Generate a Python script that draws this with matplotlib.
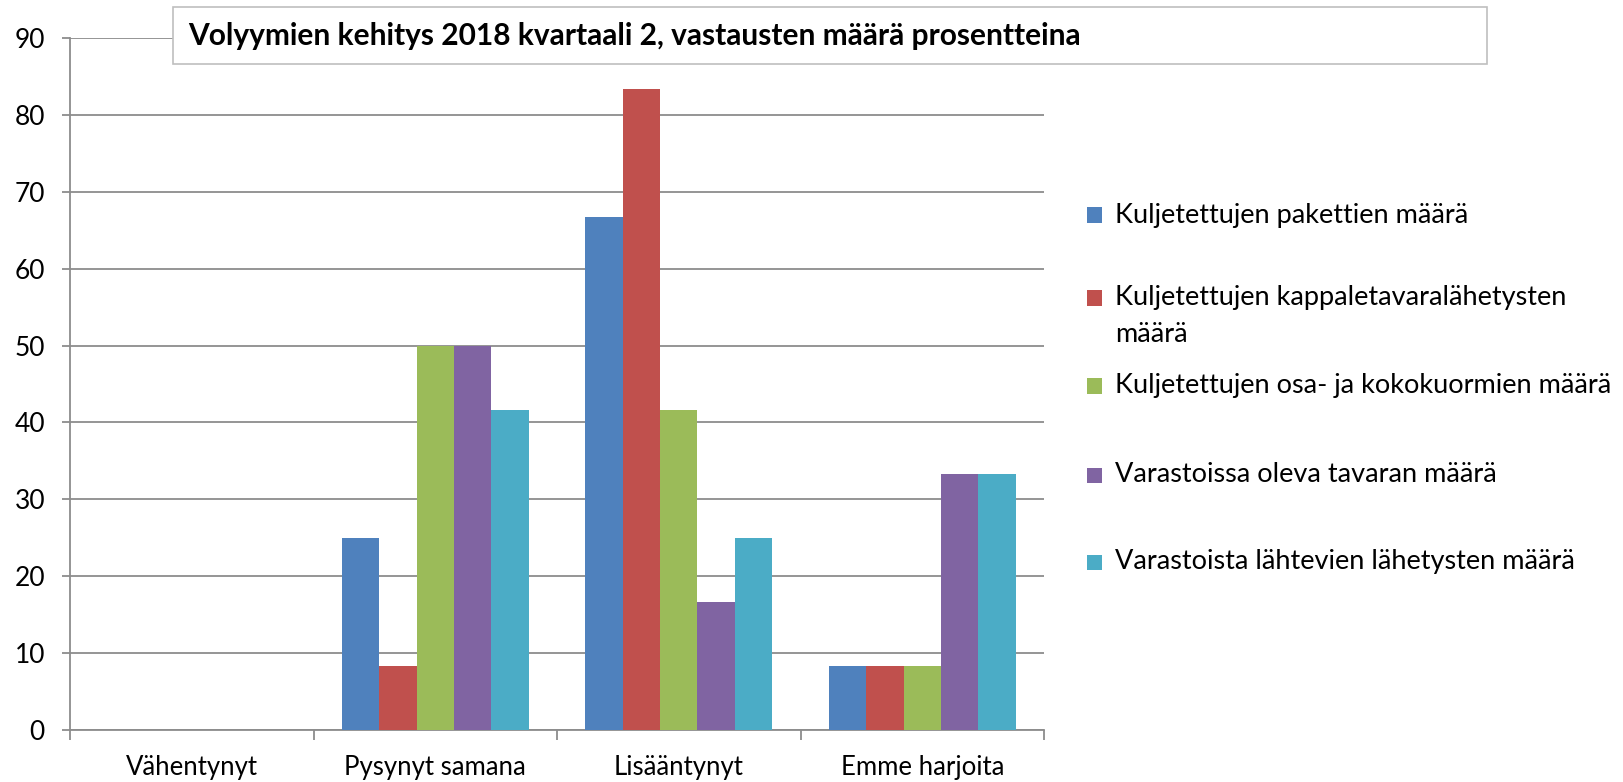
import matplotlib
matplotlib.use("Agg")
import matplotlib.pyplot as plt
import numpy as np
from matplotlib.patches import Rectangle

categories = ["Vähentynyt", "Pysynyt samana", "Lisääntynyt", "Emme harjoita"]
series_names = [
    "Kuljetettujen pakettien määrä",
    "Kuljetettujen kappaletavaralähetysten\nmäärä",
    "Kuljetettujen osa- ja kokokuormien määrä",
    "Varastoissa oleva tavaran määrä",
    "Varastoista lähtevien lähetysten määrä",
]
pakettien = [0, 25.0, 66.67, 8.33]
kappaletavara = [0, 8.33, 83.33, 8.33]
kokokuormat = [0, 50.0, 41.67, 8.33]
varastoissa = [0, 50.0, 16.67, 33.33]
varastoista = [0, 41.67, 25.0, 33.33]
series_values = [pakettien, kappaletavara, kokokuormat, varastoissa, varastoista]
colors = ["#4F81BD", "#C0504D", "#9BBB59", "#8064A2", "#4BACC6"]
title = "Volyymien kehitys 2018 kvartaali 2, vastausten määrä prosentteina"

plt.rcParams['font.family'] = ['Lato', 'DejaVu Sans']

W, H = 1623, 782
fig = plt.figure(figsize=(W/100, H/100), dpi=100)
ax_l, ax_r, ax_b, ax_t = 70, 1044, 730, 38
ax = fig.add_axes([ax_l/W, 1-ax_b/H, (ax_r-ax_l)/W, (ax_b-ax_t)/H])

n = len(series_values)
group = 5/6.5
bw = group/n
x = np.arange(len(categories))
for i, (vals, c) in enumerate(zip(series_values, colors)):
    ax.bar(x - group/2 + bw*(i+0.5), vals, width=bw, color=c, zorder=3,
           edgecolor='none')

ax.set_xlim(-0.5, len(categories)-0.5)
ax.set_ylim(0, 90)
ax.set_yticks(np.arange(0, 91, 10))
ax.yaxis.grid(True, color='#8c8c8c', linewidth=1.3, zorder=0)
ax.set_axisbelow(True)
for s in ['top', 'right']:
    ax.spines[s].set_visible(False)
for s in ['left', 'bottom']:
    ax.spines[s].set_color('#8c8c8c')
    ax.spines[s].set_linewidth(1.3)
ax.tick_params(axis='y', length=6, width=1.3, color='#8c8c8c', labelsize=19, pad=12)
ax.set_xticks(np.arange(-0.5, len(categories)), minor=False)
ax.set_xticklabels([])
ax.set_xticks(x, minor=True)
ax.set_xticklabels(categories, minor=True, fontsize=18.5)
ax.tick_params(axis='x', which='major', length=7, width=1.3, color='#8c8c8c')
ax.tick_params(axis='x', which='minor', length=0, pad=18)

# title box
fig.patches.append(Rectangle((173/W, 1-64/H), (1487-173)/W, (64-7)/H,
                             transform=fig.transFigure, facecolor='white',
                             edgecolor='#BFBFBF', linewidth=1.2, zorder=5))
fig.text(188/W, 1-36/H, title, fontsize=21.5, fontweight='bold',
         va='center', ha='left', zorder=6)

# legend
ys = [215, 298, 386, 475, 562]
line_gap = 36
for name, c, y in zip(series_names, colors, ys):
    fig.patches.append(Rectangle((1087/W, 1-(y+7.5)/H), 15/W, 15/H,
                                 transform=fig.transFigure, facecolor=c,
                                 edgecolor='none'))
    for k, line in enumerate(name.split("\n")):
        fig.text(1115/W, 1-(y+k*line_gap)/H, line, fontsize=19.5,
                 va='center', ha='left')

fig.savefig("out.png", dpi=100, facecolor='white')
